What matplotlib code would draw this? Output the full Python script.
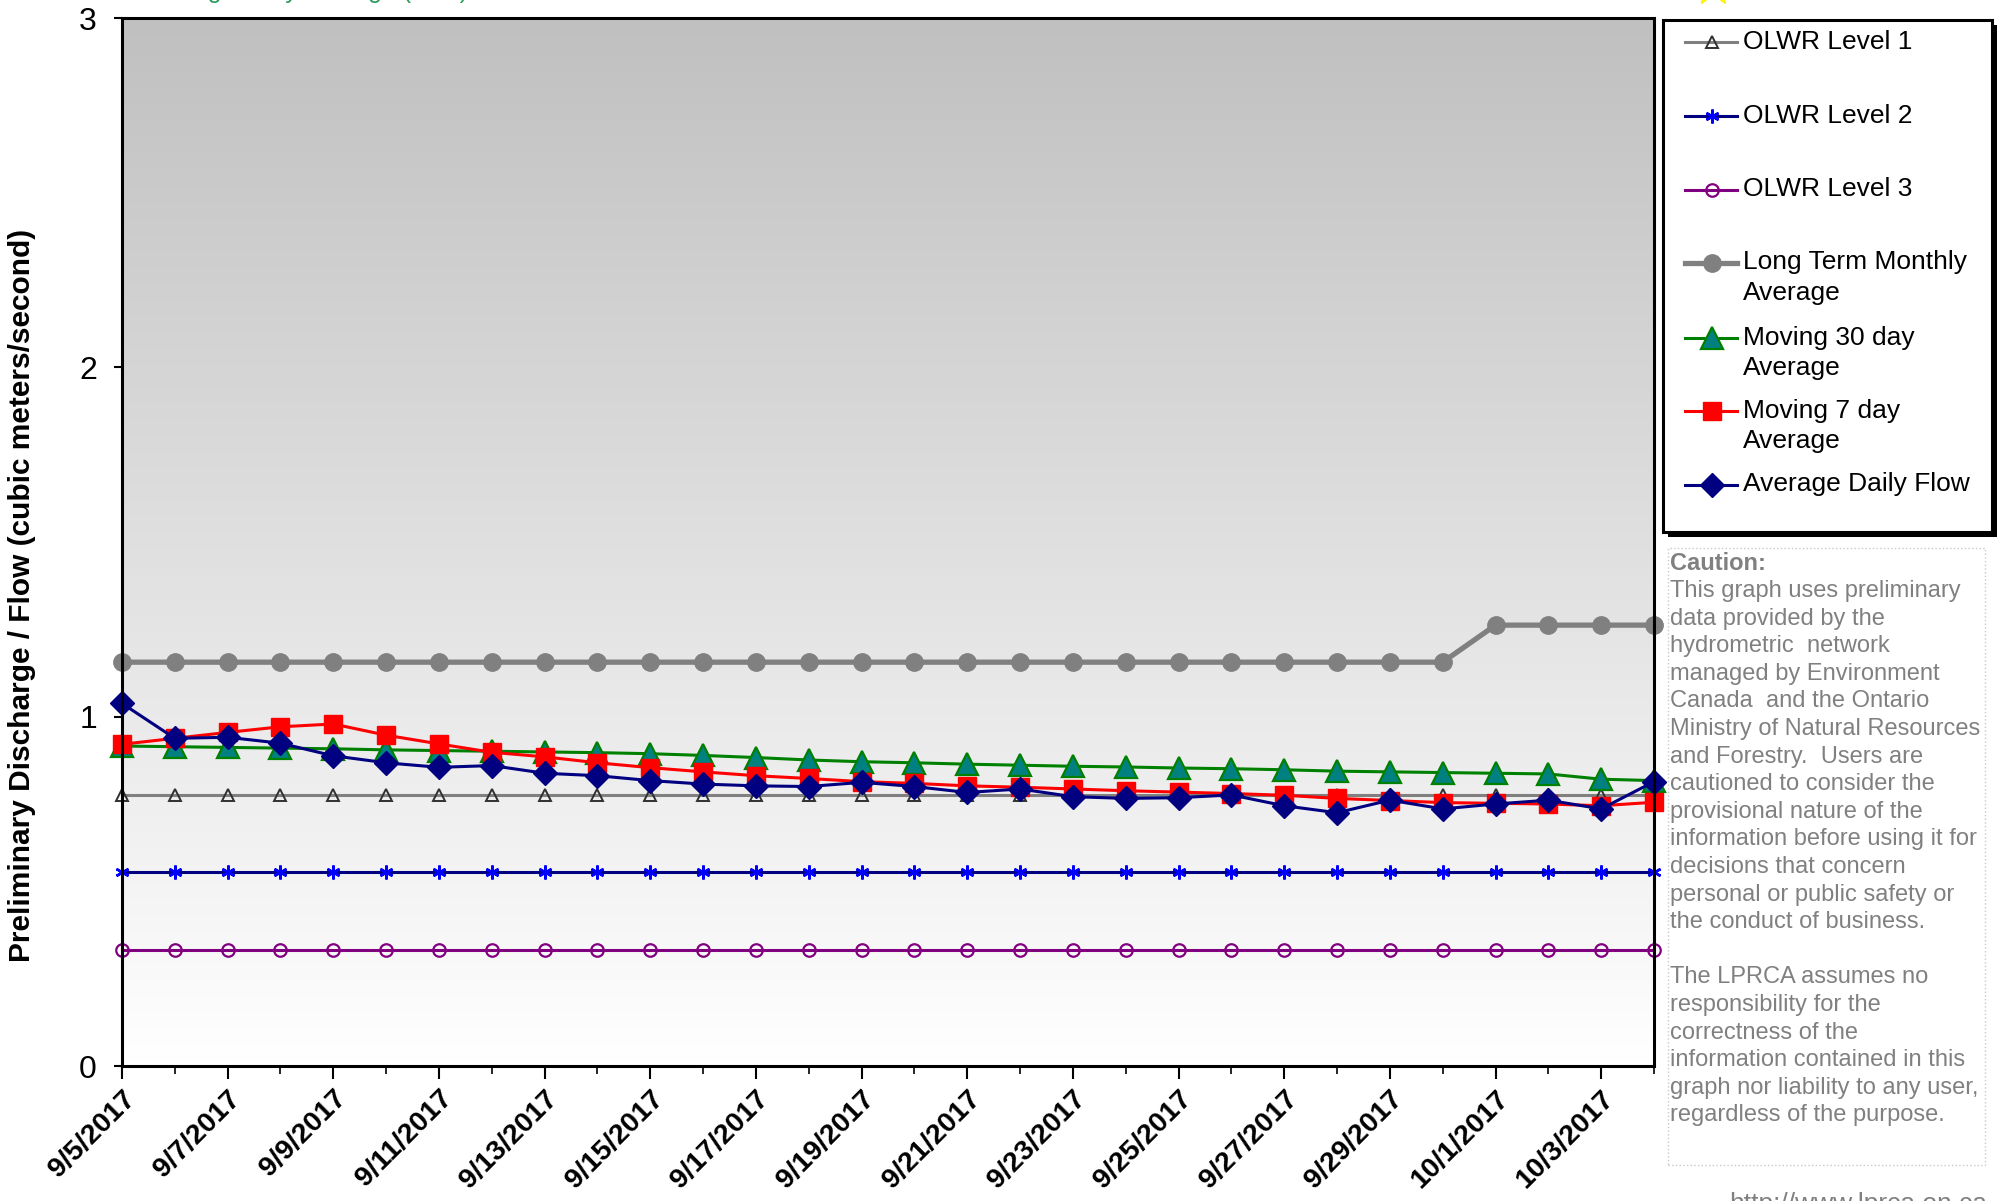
import numpy as np
import matplotlib
matplotlib.use("Agg")
import matplotlib.pyplot as plt
from matplotlib.lines import Line2D
from matplotlib.patches import Rectangle
from matplotlib.colors import LinearSegmentedColormap
import matplotlib.transforms as mtransforms

# ---------------- data ----------------
dates = ['9/5/2017', '9/6/2017', '9/7/2017', '9/8/2017', '9/9/2017', '9/10/2017',
         '9/11/2017', '9/12/2017', '9/13/2017', '9/14/2017', '9/15/2017', '9/16/2017',
         '9/17/2017', '9/18/2017', '9/19/2017', '9/20/2017', '9/21/2017', '9/22/2017',
         '9/23/2017', '9/24/2017', '9/25/2017', '9/26/2017', '9/27/2017', '9/28/2017',
         '9/29/2017', '9/30/2017', '10/1/2017', '10/2/2017', '10/3/2017', '10/4/2017']

olwr_level1 = [0.777, 0.777, 0.777, 0.777, 0.777, 0.777, 0.777, 0.777, 0.777, 0.777,
               0.777, 0.777, 0.777, 0.777, 0.777, 0.777, 0.777, 0.777, 0.777, 0.777,
               0.777, 0.777, 0.777, 0.777, 0.777, 0.777, 0.777, 0.777, 0.777, 0.777]
olwr_level2 = [0.554, 0.554, 0.554, 0.554, 0.554, 0.554, 0.554, 0.554, 0.554, 0.554,
               0.554, 0.554, 0.554, 0.554, 0.554, 0.554, 0.554, 0.554, 0.554, 0.554,
               0.554, 0.554, 0.554, 0.554, 0.554, 0.554, 0.554, 0.554, 0.554, 0.554]
olwr_level3 = [0.331, 0.331, 0.331, 0.331, 0.331, 0.331, 0.331, 0.331, 0.331, 0.331,
               0.331, 0.331, 0.331, 0.331, 0.331, 0.331, 0.331, 0.331, 0.331, 0.331,
               0.331, 0.331, 0.331, 0.331, 0.331, 0.331, 0.331, 0.331, 0.331, 0.331]
long_term_monthly = [1.156, 1.156, 1.156, 1.156, 1.156, 1.156, 1.156, 1.156, 1.156, 1.156,
                     1.156, 1.156, 1.156, 1.156, 1.156, 1.156, 1.156, 1.156, 1.156, 1.156,
                     1.156, 1.156, 1.156, 1.156, 1.156, 1.156, 1.262, 1.262, 1.262, 1.262]
moving_30day = [0.916, 0.914, 0.912, 0.910, 0.908, 0.905, 0.903, 0.901, 0.899, 0.897,
                0.894, 0.889, 0.883, 0.876, 0.871, 0.868, 0.864, 0.861, 0.858, 0.856,
                0.853, 0.851, 0.848, 0.844, 0.842, 0.840, 0.838, 0.836, 0.821, 0.817]
moving_7day = [0.921, 0.938, 0.955, 0.971, 0.979, 0.947, 0.922, 0.898, 0.885, 0.868,
               0.854, 0.842, 0.831, 0.823, 0.814, 0.809, 0.802, 0.798, 0.793, 0.788,
               0.784, 0.780, 0.775, 0.766, 0.760, 0.754, 0.752, 0.750, 0.745, 0.755]
average_daily_flow = [1.038, 0.938, 0.941, 0.924, 0.888, 0.868, 0.855, 0.860, 0.838, 0.831,
                      0.817, 0.807, 0.802, 0.800, 0.812, 0.800, 0.783, 0.793, 0.771, 0.766,
                      0.768, 0.776, 0.745, 0.725, 0.761, 0.736, 0.750, 0.761, 0.736, 0.814]

x_tick_labels = ['9/5/2017', '9/7/2017', '9/9/2017', '9/11/2017', '9/13/2017', '9/15/2017',
                 '9/17/2017', '9/19/2017', '9/21/2017', '9/23/2017', '9/25/2017', '9/27/2017',
                 '9/29/2017', '10/1/2017', '10/3/2017']
y_ticks = [0, 1, 2, 3]

series_names = ['OLWR Level 1', 'OLWR Level 2', 'OLWR Level 3',
                'Long Term Monthly\nAverage', 'Moving 30 day\nAverage',
                'Moving 7 day\nAverage', 'Average Daily Flow']

caution_lines = ["This graph uses preliminary", "data provided by the",
                 "hydrometric  network", "managed by Environment",
                 "Canada  and the Ontario", "Ministry of Natural Resources",
                 "and Forestry.  Users are", "cautioned to consider the",
                 "provisional nature of the", "information before using it for",
                 "decisions that concern", "personal or public safety or",
                 "the conduct of business.", "", "The LPRCA assumes no",
                 "responsibility for the", "correctness of the",
                 "information contained in this", "graph nor liability to any user,",
                 "regardless of the purpose."]

# ---------------- styles ----------------
styles = [
    dict(color='#808080', lw=2.2, marker='^', ms=8, mfc='none', mec='#303030', mew=1.4),
    dict(color='#000080', lw=2.2, marker=(6, 2, 0), ms=10, mfc='#0000ff', mec='#0000ff', mew=1.8),
    dict(color='#800080', lw=2.2, marker='o', ms=9, mfc='none', mec='#800080', mew=1.6),
    dict(color='#808080', lw=3.8, marker='o', ms=12.5, mfc='#808080', mec='#808080', mew=1),
    dict(color='#008000', lw=2.2, marker='^', ms=16, mfc='#008080', mec='#008000', mew=1.6),
    dict(color='#ff0000', lw=2.2, marker='s', ms=13.5, mfc='#ff0000', mec='#ff0000', mew=1),
    dict(color='#000080', lw=2.2, marker='D', ms=12.5, mfc='#000080', mec='#000080', mew=1),
]
series = [olwr_level1, olwr_level2, olwr_level3, long_term_monthly,
          moving_30day, moving_7day, average_daily_flow]

plt.rcParams['font.family'] = ['Liberation Sans', 'DejaVu Sans']

W, H = 1997, 1201
fig = plt.figure(figsize=(W / 100, H / 100), dpi=100)
fig.patch.set_facecolor('white')


def fx(px):
    return px / W


def fy(py):
    return 1 - py / H


ax_l, ax_r, ax_t, ax_b = 122, 1654, 18, 1066
ax = fig.add_axes([fx(ax_l), fy(ax_b), (ax_r - ax_l) / W, (ax_b - ax_t) / H])

x = np.arange(len(dates))
grad_cmap = LinearSegmentedColormap.from_list('bg', ['#c0c0c0', '#ffffff'])
ax.imshow(np.linspace(0, 1, 256)[:, None], extent=[0, len(dates) - 1, 0, 3],
          aspect='auto', cmap=grad_cmap, origin='upper', zorder=0)

for vals, st in zip(series, styles):
    ax.plot(x, vals, zorder=3, clip_on=False, **st)

ax.set_xlim(0, len(dates) - 1)
ax.set_ylim(0, 3)
ax.set_yticks(y_ticks)
ax.set_yticklabels([str(t) for t in y_ticks], fontsize=23)
ax.set_xticks(x[::2])
ax.set_xticks(x, minor=True)
ax.set_xticklabels(x_tick_labels, rotation=45, ha='right', va='top',
                   rotation_mode='anchor', fontsize=20.5, fontweight='bold')
offset = mtransforms.ScaledTranslation(10 / 100, 0, fig.dpi_scale_trans)
for lbl in ax.get_xticklabels():
    lbl.set_transform(lbl.get_transform() + offset)
ax.tick_params(axis='x', which='major', direction='out', length=9, width=1.5, pad=5)
ax.tick_params(axis='x', which='minor', direction='out', length=6, width=1.2)
ax.tick_params(axis='y', direction='out', length=6, width=1.5, pad=12)
for sp in ax.spines.values():
    sp.set_linewidth(2.2)
    sp.set_color('black')
    sp.set_zorder(5)

ax.set_ylabel('Preliminary Discharge / Flow (cubic meters/second)',
              fontsize=21.5, fontweight='bold')
ax.yaxis.set_label_coords((36 - ax_l) / (ax_r - ax_l), (ax_b - 595) / (ax_b - ax_t))

# ---------------- legend (manual) ----------------
lg_l, lg_r, lg_t, lg_b = 1663, 1992, 20, 532
fig.add_artist(Rectangle((fx(lg_l + 5), fy(lg_b + 5)), (lg_r - lg_l) / W, (lg_b - lg_t) / H,
                         transform=fig.transFigure, facecolor='black', edgecolor='none'))
fig.add_artist(Rectangle((fx(lg_l), fy(lg_b)), (lg_r - lg_l) / W, (lg_b - lg_t) / H,
                         transform=fig.transFigure, facecolor='white', edgecolor='black',
                         lw=2.2))
entry_y = [42, 116, 189.5, 262.5, 337.5, 410.5, 484.5]
for ey, name, st in zip(entry_y, series_names, styles):
    line_st = {k: v for k, v in st.items() if k in ('color', 'lw')}
    mark_st = {k: v for k, v in st.items() if k not in ('color', 'lw')}
    fig.add_artist(Line2D([fx(1685), fx(1737)], [fy(ey), fy(ey)],
                          transform=fig.transFigure, **line_st))
    fig.add_artist(Line2D([fx(1712)], [fy(ey)], transform=fig.transFigure,
                          ls='none', **mark_st))
    for k, part in enumerate(name.split('\n')):
        fig.text(fx(1743), fy(ey + 30.5 * k), part, fontsize=19, va='center', ha='left',
                 color='black')

# ---------------- caution box ----------------
fig.add_artist(Rectangle((fx(1668), fy(1165)), (1985 - 1668) / W, (1165 - 548) / H,
                         transform=fig.transFigure, facecolor='none',
                         edgecolor='#c8c8c8', lw=1, ls=':'))
fig.text(fx(1670), fy(563), 'Caution:', fontsize=17, fontweight='bold',
         color='#808080', va='center', ha='left')
for k, line in enumerate(caution_lines):
    if line:
        fig.text(fx(1670), fy(591 + 27.6 * k), line, fontsize=17, color='#808080',
                 va='center', ha='left')

fig.text(fx(1729), fy(1192), 'http://www.lprca.on.ca', fontsize=19, color='#808080',
         va='top', ha='left')

# clipped header text at the very top
fig.text(fx(468), fy(-2), 'Average Daily Average (m\u00b3/s)', fontsize=18,
         color='#2e9b5f', ha='right', va='baseline')
fig.text(fx(498), fy(-1), '0.815', fontsize=18, color='black', ha='left', va='baseline')
fig.add_artist(Line2D([fx(1713)], [fy(-14)], transform=fig.transFigure, ls='none',
                      marker='*', ms=30, mfc='#ffff00', mec='#ffee00'))

fig.savefig('out.png', dpi=100)
